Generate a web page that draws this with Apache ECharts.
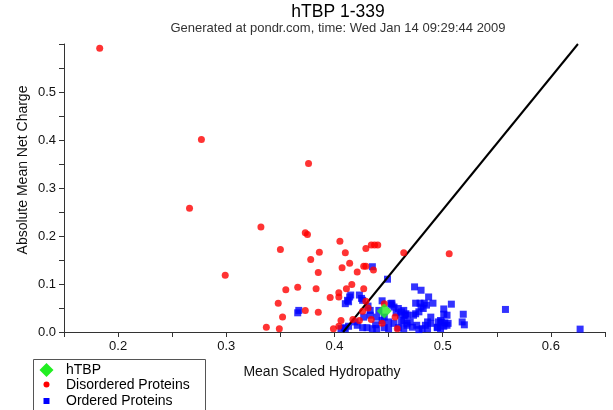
<!DOCTYPE html>
<html>
<head>
<meta charset="utf-8">
<script src="https://cdn.jsdelivr.net/npm/echarts@6/dist/echarts.min.js"></script>
<style>
  html, body { margin: 0; padding: 0; background: #fff; }
  #chart { width: 613px; height: 410px; }
</style>
</head>
<body>
<div id="chart"></div>
<script>
// values: [mean scaled hydropathy, absolute mean net charge]
var htbp = [[0.446, 0.044]];

var disordered = [
  [0.183, 0.591], [0.277, 0.401], [0.376, 0.351], [0.266, 0.258], [0.332, 0.219], [0.299, 0.118], [0.337, 0.010],
  [0.373, 0.207], [0.375, 0.203], [0.405, 0.189], [0.350, 0.172], [0.429, 0.174], [0.434, 0.181], [0.437, 0.181],
  [0.440, 0.181], [0.386, 0.166], [0.410, 0.165], [0.464, 0.165], [0.506, 0.163], [0.378, 0.151], [0.414, 0.143],
  [0.407, 0.134], [0.427, 0.137], [0.429, 0.137], [0.385, 0.124], [0.421, 0.125], [0.436, 0.129], [0.416, 0.099],
  [0.355, 0.088], [0.366, 0.093], [0.383, 0.090], [0.411, 0.090], [0.427, 0.090], [0.348, 0.060], [0.373, 0.045],
  [0.385, 0.041], [0.396, 0.072], [0.404, 0.082], [0.404, 0.073], [0.352, 0.031], [0.349, 0.007], [0.399, 0.007],
  [0.404, 0.012], [0.406, 0.024], [0.417, 0.026], [0.423, 0.024], [0.429, 0.064], [0.431, 0.050], [0.426, 0.043],
  [0.434, 0.026], [0.444, 0.018], [0.446, 0.059], [0.456, 0.031], [0.458, 0.007]
];

var ordered = [
  [0.627, 0.006], [0.558, 0.047], [0.449, 0.110], [0.435, 0.136], [0.474, 0.094], [0.480, 0.087], [0.487, 0.073],
  [0.491, 0.060], [0.508, 0.058], [0.475, 0.060], [0.479, 0.060], [0.483, 0.060], [0.485, 0.056], [0.480, 0.052],
  [0.482, 0.049], [0.501, 0.048], [0.504, 0.035], [0.501, 0.037], [0.519, 0.037], [0.518, 0.021], [0.520, 0.015],
  [0.489, 0.031], [0.486, 0.021], [0.495, 0.009], [0.501, 0.012], [0.504, 0.014], [0.498, 0.024], [0.473, 0.035],
  [0.478, 0.042], [0.475, 0.038], [0.464, 0.045], [0.466, 0.038], [0.465, 0.035], [0.452, 0.059], [0.453, 0.056],
  [0.444, 0.065], [0.496, 0.021], [0.499, 0.021], [0.502, 0.019], [0.505, 0.018], [0.495, 0.010], [0.498, 0.007],
  [0.461, 0.035], [0.464, 0.024], [0.467, 0.018], [0.470, 0.021], [0.472, 0.010], [0.476, 0.014], [0.478, 0.005],
  [0.481, 0.007], [0.484, 0.014], [0.486, 0.007], [0.489, 0.018], [0.415, 0.077], [0.413, 0.063], [0.410, 0.059],
  [0.423, 0.077], [0.425, 0.070], [0.426, 0.066], [0.431, 0.054], [0.433, 0.045], [0.453, 0.060], [0.455, 0.052],
  [0.459, 0.049], [0.462, 0.042], [0.467, 0.035], [0.427, 0.031], [0.433, 0.035], [0.439, 0.031], [0.446, 0.031],
  [0.450, 0.021], [0.455, 0.018], [0.462, 0.021], [0.467, 0.014], [0.426, 0.009], [0.430, 0.009], [0.435, 0.007],
  [0.439, 0.007], [0.446, 0.009], [0.450, 0.007], [0.459, 0.009], [0.464, 0.007], [0.409, 0.009], [0.413, 0.012],
  [0.406, 0.007], [0.419, 0.021], [0.421, 0.014], [0.366, 0.040], [0.367, 0.045], [0.412, 0.066], [0.414, 0.073],
  [0.410, 0.007], [0.441, 0.045], [0.438, 0.015], [0.457, 0.040], [0.444, 0.024]
];

// boundary line, ends
var boundary = [[0.408, 0.0], [0.625, 0.6]];

var legendNames = ["hTBP", "Disordered Proteins", "Ordered Proteins"];

var font = "Liberation Sans, Arial, Helvetica, sans-serif";

var chart = echarts.init(document.getElementById("chart"), null, { renderer: "canvas" });
chart.setOption({
  animation: false,
  title: {
    text: "hTBP 1-339",
    subtext: "Generated at pondr.com, time: Wed Jan 14 09:29:44 2009",
    left: 338,
    top: 3,
    textAlign: "center",
    itemGap: 1,
    padding: 0,
    textStyle: { fontFamily: font, fontSize: 17.5, fontWeight: "normal", color: "#000" },
    subtextStyle: { fontFamily: font, fontSize: 13, color: "#333" }
  },
  grid: { left: 64, right: 8, top: 44, bottom: 78 },
  xAxis: {
    type: "value",
    min: 0.15,
    max: 0.65,
    interval: 0.05,
    axisLine: { lineStyle: { color: "#333", width: 1 } },
    axisTick: { length: 5, lineStyle: { color: "#333" } },
    splitLine: { show: false },
    axisLabel: {
      fontFamily: font, fontSize: 13, color: "#111", margin: 8,
      formatter: function (v) {
        return Math.round(v * 100) % 10 === 0 ? v.toFixed(1) : "";
      }
    }
  },
  yAxis: {
    type: "value",
    min: 0,
    max: 0.6,
    interval: 0.05,
    axisLine: { show: true, lineStyle: { color: "#333", width: 1 } },
    axisTick: { show: true, length: 5, lineStyle: { color: "#333" } },
    splitLine: { show: false },
    axisLabel: {
      fontFamily: font, fontSize: 13, color: "#111", margin: 8,
      formatter: function (v) {
        return (Math.round(v * 100) % 10 === 0 && v < 0.55) ? v.toFixed(1) : "";
      }
    }
  },
  series: [
    {
      name: legendNames[2],
      type: "scatter",
      symbol: "rect",
      symbolSize: 7,
      itemStyle: { color: "#0000ff" },
      data: ordered,
      z: 2
    },
    {
      name: "boundary",
      type: "line",
      data: boundary,
      symbol: "none",
      lineStyle: { color: "#000", width: 2 },
      z: 3
    },
    {
      name: legendNames[1],
      type: "scatter",
      symbol: "circle",
      symbolSize: 7,
      itemStyle: { color: "#ff0000" },
      data: disordered,
      z: 4
    },
    {
      name: legendNames[0],
      type: "scatter",
      symbol: "diamond",
      symbolSize: 15,
      itemStyle: { color: "#22ee22" },
      data: htbp,
      z: 5
    }
  ],
  graphic: [
    {
      type: "text", x: 322, y: 372,
      style: { text: "Mean Scaled Hydropathy", font: "14px " + font, fill: "#111", align: "center", verticalAlign: "middle" }
    },
    {
      type: "text", x: 23, y: 170, rotation: Math.PI / 2,
      style: { text: "Absolute Mean Net Charge", font: "14px " + font, fill: "#111", align: "center", verticalAlign: "middle" }
    },
    {
      type: "rect", shape: { x: 33.5, y: 359.5, width: 172, height: 60 },
      style: { fill: "#fff", stroke: "#555", lineWidth: 1 }
    },
    {
      type: "polygon", shape: { points: [[46.5, 363], [53.5, 370], [46.5, 377], [39.5, 370]] },
      style: { fill: "#22ee22" }
    },
    {
      type: "circle", shape: { cx: 46.5, cy: 384.5, r: 3 },
      style: { fill: "#ff0000" }
    },
    {
      type: "rect", shape: { x: 43.5, y: 398, width: 6, height: 6 },
      style: { fill: "#0000ff" }
    },
    {
      type: "text", x: 66, y: 370,
      style: { text: legendNames[0], font: "14px " + font, fill: "#000", verticalAlign: "middle" }
    },
    {
      type: "text", x: 66, y: 385,
      style: { text: legendNames[1], font: "14px " + font, fill: "#000", verticalAlign: "middle" }
    },
    {
      type: "text", x: 66, y: 401,
      style: { text: legendNames[2], font: "14px " + font, fill: "#000", verticalAlign: "middle" }
    }
  ]
});
window.addEventListener("resize", function () { chart.resize(); });
</script>
</body>
</html>
